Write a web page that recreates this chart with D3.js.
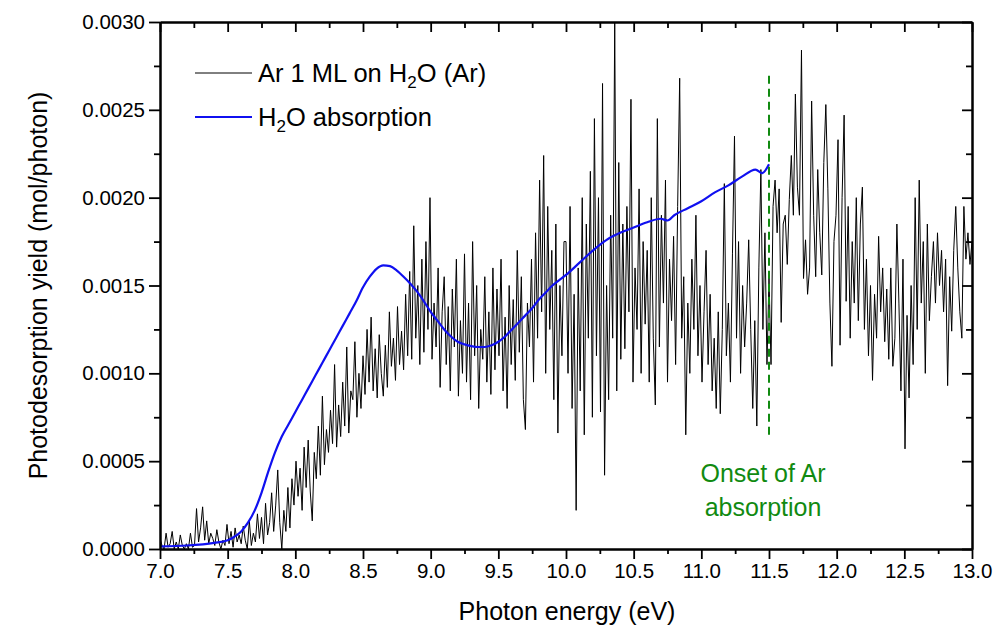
<!DOCTYPE html>
<html><head><meta charset="utf-8">
<script src="https://cdn.jsdelivr.net/npm/d3@7"></script>
<style>body{margin:0;background:#fff;} text{font-family:"Liberation Sans",Arial,sans-serif;fill:#000;}</style>
</head><body><svg id="c" width="1003" height="633"></svg>
<script>
// ---- data ----
const xTickValues = [7.0,7.5,8.0,8.5,9.0,9.5,10.0,10.5,11.0,11.5,12.0,12.5,13.0];
const yTickValues = [0.0000,0.0005,0.0010,0.0015,0.0020,0.0025,0.0030];
// Ar 1 ML on H2O (Ar): sampled every 0.015 eV from 7.000 eV; values in units of 1e-4 mol/photon
const arEnergyStart = 7.0, arEnergyStep = 0.015;
const arYield_1e4 = [
 0.6,0.2,0.0,0.9,0.1,0.3,1.0,0.0,0.4,0.0,0.8,0.2,0.0,0.3,0.0,0.9,0.1,0.2,2.3,0.4,
 1.2,2.4,0.5,1.6,0.3,0.9,0.6,0.2,1.1,0.4,0.0,0.5,0.2,1.4,0.3,1.0,0.1,1.2,0.4,0.8,
 0.3,1.3,0.5,0.0,1.6,0.2,0.9,0.4,2.0,0.6,1.8,0.3,2.6,0.8,1.5,3.2,1.0,2.5,4.5,1.5,
 0.0,2.2,1.0,3.5,1.2,4.0,2.5,5.0,3.0,4.6,2.2,5.8,3.5,6.2,3.3,1.6,5.5,4.0,7.0,4.2,
 8.7,4.8,6.8,5.5,7.9,6.0,10.5,5.8,8.2,6.4,9.5,7.0,11.5,6.6,9.0,8.5,11.8,7.5,10.0,8.0,
 11.0,8.8,12.5,9.5,13.2,9.0,11.4,8.6,12.2,10.0,8.7,11.6,9.2,13.5,10.4,12.0,9.6,13.8,10.5,12.4,
 10.2,14.5,11.0,15.8,10.8,18.4,12.0,15.0,10.5,16.5,11.2,17.5,12.5,20.0,10.8,14.0,11.5,16.0,9.2,13.5,
 15.5,10.5,13.8,9.0,14.8,11.5,16.5,8.7,13.0,10.0,16.8,9.5,14.0,8.5,17.5,11.0,15.0,8.0,12.5,10.8,
 15.5,9.5,13.5,8.8,16.0,10.2,14.8,11.0,16.5,9.0,13.2,8.0,15.0,10.5,14.2,9.6,17.0,11.2,15.5,8.5,
 6.8,14.0,11.5,16.5,9.5,18.0,12.0,21.0,13.5,22.4,10.0,19.5,12.5,17.0,8.5,18.5,6.6,15.0,11.0,17.5,
 17.5,10.0,19.5,8.0,14.5,2.2,16.0,9.0,20.0,6.5,18.5,12.0,21.5,7.5,24.5,11.0,20.0,7.8,26.5,4.2,
 15.0,8.5,19.0,12.0,30.0,9.0,22.0,10.8,18.5,11.4,19.5,13.5,25.6,9.5,16.0,12.5,20.5,10.0,17.5,12.8,
 17.0,9.5,20.0,12.0,8.2,24.5,11.5,19.0,14.0,21.0,9.5,16.5,13.0,17.8,10.5,19.5,26.8,12.0,15.5,6.5,
 14.0,10.0,16.5,12.5,19.0,11.0,15.0,9.5,13.5,17.0,10.5,14.5,9.0,12.0,8.0,13.5,7.7,12.5,20.8,11.0,
 14.0,9.5,16.8,23.5,12.0,17.5,10.0,15.0,11.5,14.0,17.6,12.5,8.0,13.0,7.0,16.0,21.6,12.5,18.0,10.5,
 15.5,10.5,19.5,21.0,18.0,20.5,12.9,18.5,19.0,16.2,19.9,22.4,19.0,25.9,20.6,19.0,28.4,15.4,17.6,14.5,
 16.0,25.5,19.0,15.5,21.6,18.0,15.6,22.0,25.3,20.5,14.0,10.4,17.5,19.0,23.3,11.6,20.0,24.7,14.1,19.5,
 12.0,17.5,14.0,20.0,13.0,18.5,20.6,12.5,16.5,11.0,15.0,9.6,14.5,12.0,17.8,13.5,16.0,11.8,14.8,10.8,
 16.0,10.4,12.0,18.5,14.0,9.0,16.5,5.7,13.3,8.6,15.0,10.5,20.0,12.5,21.0,14.0,17.5,10.0,18.5,13.0,
 15.5,17.5,14.0,18.0,15.0,17.0,13.5,16.5,9.3,15.5,12.4,17.0,19.5,16.0,13.5,12.0,19.5,16.5,18.0,16.2,
 17.5
];
// H2O absorption (scaled to the same axis), values in units of 1e-4
const h2oEnergy = [7.0,7.2,7.4,7.5,7.55,7.6,7.65,7.7,7.75,7.8,7.85,7.9,7.95,8.0,8.05,8.1,8.15,8.2,8.25,8.3,8.35,8.4,8.45,8.5,8.55,8.6,8.65,8.7,8.75,8.8,8.85,8.9,8.95,9.0,9.05,9.1,9.15,9.2,9.25,9.3,9.35,9.4,9.45,9.5,9.55,9.6,9.65,9.7,9.75,9.8,9.85,9.9,9.95,10.0,10.1,10.2,10.3,10.4,10.5,10.6,10.7,10.75,10.8,10.9,11.0,11.1,11.2,11.3,11.4,11.45,11.5];
const h2oAbs_1e4 = [0.15,0.2,0.35,0.5,0.7,1.0,1.5,2.2,3.2,4.4,5.5,6.4,7.1,7.8,8.5,9.2,9.9,10.6,11.3,12.0,12.7,13.4,14.1,14.9,15.5,15.95,16.15,16.1,15.85,15.5,15.1,14.65,14.1,13.5,13.0,12.5,12.1,11.8,11.65,11.55,11.5,11.5,11.6,11.8,12.1,12.5,12.9,13.3,13.7,14.2,14.6,15.0,15.3,15.6,16.3,17.0,17.6,18.0,18.3,18.6,18.8,18.7,19.0,19.4,19.8,20.3,20.7,21.2,21.6,21.4,21.9];
const onsetEnergy = 11.5;
const onsetRange = [0.00065, 0.0027];
const legendLabels = ["Ar 1 ML on H2O (Ar)", "H2O absorption"];

// ---- layout ----
const W = 1003, H = 633;
const m = {left:160, right:31, top:22, bottom:84};
const iw = W - m.left - m.right, ih = H - m.top - m.bottom;
const svg = d3.select("#c");
const g = svg.append("g").attr("transform", `translate(${m.left},${m.top})`);
const x = d3.scaleLinear().domain([7,13]).range([0, iw]);
const y = d3.scaleLinear().domain([0,0.003]).range([ih, 0]);
const u = 1e-4;

svg.append("defs").append("clipPath").attr("id","clip").append("rect").attr("width", iw).attr("height", ih);

const arData = arYield_1e4.map((v,i)=>({e: arEnergyStart + i*arEnergyStep, v: v*u}));
const h2oData = h2oEnergy.map((e,i)=>({e, v: h2oAbs_1e4[i]*u}));

g.append("path").datum(arData).attr("clip-path","url(#clip)")
 .attr("fill","none").attr("stroke","#000").attr("stroke-width",1)
 .attr("d", d3.line().x(d=>x(d.e)).y(d=>y(d.v)));

g.append("path").datum(h2oData)
 .attr("fill","none").attr("stroke","#1010f0").attr("stroke-width",2.2)
 .attr("d", d3.line().curve(d3.curveMonotoneX).x(d=>x(d.e)).y(d=>y(d.v)));

g.append("line").attr("x1",x(onsetEnergy)).attr("x2",x(onsetEnergy))
 .attr("y1",y(onsetRange[0])).attr("y2",y(onsetRange[1]))
 .attr("stroke","#118a11").attr("stroke-width",2).attr("stroke-dasharray","8,5");

const green = "#118a11";
g.append("text").attr("x", x(onsetEnergy)-6).attr("y", y(0.00038)).attr("text-anchor","middle")
 .attr("font-size",25).style("fill",green).text("Onset of Ar");
g.append("text").attr("x", x(onsetEnergy)-6).attr("y", y(0.00019)).attr("text-anchor","middle")
 .attr("font-size",25).style("fill",green).text("absorption");

// ---- axes ----
const xMinor = d3.range(7, 13.001, 0.25).filter(v=>Math.abs(v*2-Math.round(v*2))>1e-6);
const yMinor = d3.range(0.00025, 0.003, 0.0005);
const axStyle = sel => { sel.select(".domain").attr("stroke-width",2); sel.selectAll(".tick line").attr("stroke-width",1.8); };

const xb = g.append("g").attr("transform",`translate(0,${ih})`)
 .call(d3.axisBottom(x).tickValues(xTickValues).tickFormat(d3.format(".1f")).tickSize(10).tickPadding(4).tickSizeOuter(0));
xb.call(axStyle); xb.selectAll("text").attr("font-size",20.5).attr("font-family","Liberation Sans, Arial, sans-serif");
g.append("g").attr("transform",`translate(0,${ih})`)
 .call(d3.axisBottom(x).tickValues(xMinor).tickFormat("").tickSize(5).tickSizeOuter(0)).call(axStyle);

g.append("g").call(d3.axisTop(x).tickValues(xTickValues).tickFormat("").tickSize(-10).tickSizeOuter(0)).call(axStyle);
g.append("g").call(d3.axisTop(x).tickValues(xMinor).tickFormat("").tickSize(-6).tickSizeOuter(0)).call(axStyle);

const yl = g.append("g")
 .call(d3.axisLeft(y).tickValues(yTickValues).tickFormat(d3.format(".4f")).tickSize(11).tickPadding(4).tickSizeOuter(0));
yl.call(axStyle); yl.selectAll("text").attr("font-size",20.5).attr("font-family","Liberation Sans, Arial, sans-serif");
g.append("g").call(d3.axisLeft(y).tickValues(yMinor).tickFormat("").tickSize(6).tickSizeOuter(0)).call(axStyle);

g.append("g").attr("transform",`translate(${iw},0)`)
 .call(d3.axisRight(y).tickValues(yTickValues).tickFormat("").tickSize(-10).tickSizeOuter(0)).call(axStyle);
g.append("g").attr("transform",`translate(${iw},0)`)
 .call(d3.axisRight(y).tickValues(yMinor).tickFormat("").tickSize(-6).tickSizeOuter(0)).call(axStyle);

// titles
svg.append("text").attr("x", m.left + iw/2 + 1).attr("y", 620).attr("text-anchor","middle")
 .attr("font-size",25).text("Photon energy (eV)");
svg.append("text").attr("transform",`translate(47,${m.top+ih/2}) rotate(-90)`).attr("text-anchor","middle")
 .attr("font-size",25).text("Photodesorption yield (mol/photon)");

// legend
const leg = svg.append("g");
const legRows = [{y:73, color:"#000", w:1, parts:["Ar 1 ML on H","2","O (Ar)"]},
                 {y:117, color:"#1010f0", w:2.2, parts:["H","2","O absorption"]}];
legRows.forEach(r=>{
  leg.append("line").attr("x1",195).attr("x2",252).attr("y1",r.y).attr("y2",r.y).attr("stroke",r.color).attr("stroke-width",r.w);
  const t = leg.append("text").attr("x",258).attr("y",r.y+9).attr("font-size",25.5);
  t.append("tspan").text(r.parts[0]);
  t.append("tspan").attr("font-size",17).attr("dy",6).text(r.parts[1]);
  t.append("tspan").attr("dy",-6).text(r.parts[2]);
});
</script></body></html>
